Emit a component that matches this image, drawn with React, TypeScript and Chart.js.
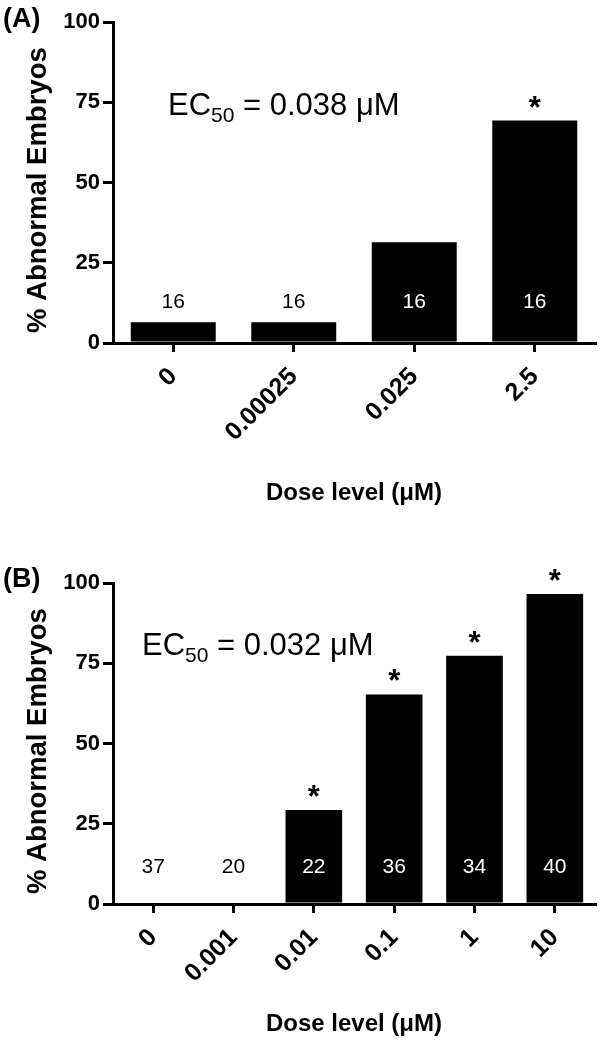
import React, { useEffect, useRef } from "react";
import { Chart, registerables } from "chart.js";

Chart.register(...registerables);

const FAMILY = "'Liberation Sans', Arial, Helvetica, sans-serif";

// Panel A
const doseLabelsA = ["0", "0.00025", "0.025", "2.5"];
const abnormalA = [6.5, 6.5, 31.4, 69.3];
const countsA = [16, 16, 16, 16];
const signifA = [false, false, false, true];
const ec50A = "0.038";

// Panel B
const doseLabelsB = ["0", "0.001", "0.01", "0.1", "1", "10"];
const abnormalB = [0, 0, 29.3, 65.3, 77.3, 96.6];
const countsB = [37, 20, 22, 36, 34, 40];
const signifB = [false, false, true, true, true, true];
const ec50B = "0.032";

const yTickValues = [0, 25, 50, 75, 100];

type PanelCfg = {
  panel: string;
  labels: string[];
  values: number[];
  counts: number[];
  signif: boolean[];
  ec50: string;
  height: number;
  top: number;
  titlePadBottom: number;
  countY: number;
  ecX: number;
  ecY: number;
  panelBaseline: number;
};

const annotPlugin = {
  id: "annot",
  afterDatasetsDraw(chart: any, _args: any, opts: any) {
    const { ctx } = chart;
    const xs = chart.scales.x;
    const ys = chart.scales.y;
    const vals: number[] = chart.data.datasets[0].data;
    ctx.save();
    ctx.fillStyle = "#000";
    // panel letter
    ctx.font = `bold 27px ${FAMILY}`;
    ctx.textAlign = "left";
    ctx.textBaseline = "alphabetic";
    ctx.fillText(opts.panel, 3, opts.panelBaseline);
    // EC50 annotation
    let cx = opts.ecX;
    const by = opts.ecY;
    ctx.font = `31px ${FAMILY}`;
    ctx.fillText("EC", cx, by);
    cx += ctx.measureText("EC").width;
    ctx.font = `21px ${FAMILY}`;
    ctx.fillText("50", cx, by + 7);
    cx += ctx.measureText("50").width;
    ctx.font = `31px ${FAMILY}`;
    ctx.fillText(" = " + opts.ec50 + " \u03BCM", cx, by);
    // counts and significance
    opts.counts.forEach((n: number, i: number) => {
      const px = xs.getPixelForValue(i);
      const py = ys.getPixelForValue(opts.countY);
      ctx.font = `21px ${FAMILY}`;
      ctx.textAlign = "center";
      ctx.textBaseline = "middle";
      ctx.fillStyle = vals[i] > opts.countY + 4 ? "#fff" : "#000";
      ctx.fillText(String(n), px, py);
      if (opts.signif[i]) {
        ctx.fillStyle = "#000";
        ctx.font = `bold 31px ${FAMILY}`;
        ctx.textBaseline = "alphabetic";
        ctx.fillText("*", px, ys.getPixelForValue(vals[i]) - 3);
      }
    });
    ctx.restore();
  },
};

function Panel({ cfg }: { cfg: PanelCfg }) {
  const ref = useRef<HTMLCanvasElement | null>(null);
  useEffect(() => {
    if (!ref.current) return;
    const chart = new Chart(ref.current, {
      type: "bar",
      data: {
        labels: cfg.labels,
        datasets: [
          {
            data: cfg.values,
            backgroundColor: "#000",
            borderWidth: 0,
            categoryPercentage: 1,
            barPercentage: 0.705,
          },
        ],
      },
      options: {
        responsive: false,
        animation: false,
        events: [],
        layout: { padding: { top: 22, right: 7, left: 0, bottom: 0 } },
        plugins: {
          legend: { display: false },
          tooltip: { enabled: false },
          annot: {
            panel: cfg.panel,
            counts: cfg.counts,
            signif: cfg.signif,
            ec50: cfg.ec50,
            countY: cfg.countY,
            ecX: cfg.ecX,
            ecY: cfg.ecY,
            panelBaseline: cfg.panelBaseline,
          },
        } as any,
        scales: {
          x: {
            offset: true,
            ticks: {
              autoSkip: false,
              maxRotation: 45,
              minRotation: 45,
              padding: 10,
              color: "#000",
              font: { family: FAMILY, size: 25, weight: "bold" },
            },
            grid: {
              offset: false,
              drawOnChartArea: false,
              drawTicks: true,
              tickLength: 9,
              lineWidth: 3,
              color: "#000",
            },
            border: { display: true, width: 3, color: "#000" },
            title: {
              display: true,
              text: "Dose level (\u03BCM)",
              color: "#000",
              font: { family: FAMILY, size: 24, weight: "bold" },
              padding: { top: 0, bottom: cfg.titlePadBottom },
            },
            afterFit: (s: any) => {
              s.height = cfg.height - 343;
            },
          },
          y: {
            min: 0,
            max: 100,
            afterBuildTicks: (s: any) => {
              s.ticks = yTickValues.map((v) => ({ value: v }));
            },
            ticks: {
              padding: 3,
              color: "#000",
              font: { family: FAMILY, size: 22, weight: "bold" },
            },
            grid: {
              drawOnChartArea: false,
              drawTicks: true,
              tickLength: 10,
              lineWidth: 3,
              color: "#000",
            },
            border: { display: true, width: 3, color: "#000" },
            title: {
              display: true,
              text: "% Abnormal Embryos  ",
              color: "#000",
              font: { family: FAMILY, size: 27.5, weight: "bold" },
              padding: { top: 22, bottom: 0 },
            },
            afterFit: (s: any) => {
              s.width = 113;
            },
          },
        },
      } as any,
      plugins: [annotPlugin],
    });
    return () => chart.destroy();
  }, [cfg]);
  return (
    <canvas
      ref={ref}
      width={602}
      height={cfg.height}
      style={{ position: "absolute", left: 0, top: cfg.top, width: 602, height: cfg.height }}
    />
  );
}

const cfgA: PanelCfg = {
  panel: "(A)",
  labels: doseLabelsA,
  values: abnormalA,
  counts: countsA,
  signif: signifA,
  ec50: ec50A,
  height: 525,
  top: 0,
  titlePadBottom: 17,
  countY: 12.8,
  ecX: 168,
  ecY: 115,
  panelBaseline: 27,
};

const cfgB: PanelCfg = {
  panel: "(B)",
  labels: doseLabelsB,
  values: abnormalB,
  counts: countsB,
  signif: signifB,
  ec50: ec50B,
  height: 489,
  top: 561,
  titlePadBottom: 11,
  countY: 11.5,
  ecX: 142,
  ecY: 94,
  panelBaseline: 26,
};

export default function App() {
  return (
    <div
      style={{
        position: "absolute",
        left: 0,
        top: 0,
        width: 602,
        height: 1050,
        background: "#fff",
        overflow: "hidden",
      }}
    >
      <Panel cfg={cfgA} />
      <Panel cfg={cfgB} />
    </div>
  );
}
